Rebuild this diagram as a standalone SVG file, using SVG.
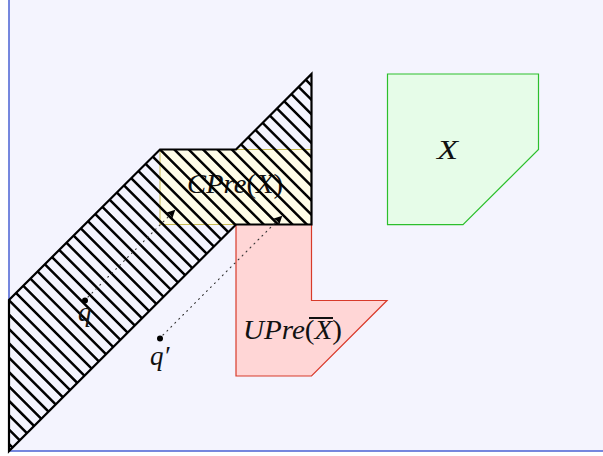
<svg xmlns="http://www.w3.org/2000/svg" width="603" height="456" viewBox="0 0 603 456">
<style>
.lbl{font-family:"Liberation Serif","DejaVu Serif",serif;font-style:italic;font-size:27px;fill:#111}
.up{font-style:normal}
.dot{stroke:#333;stroke-width:1.1;stroke-dasharray:1 4.6;stroke-linecap:round;fill:none}
.hl{stroke:#000;stroke-width:2.5;fill:none}
</style>
<defs>
<clipPath id="hclip">
<polygon points="9,451 9,300 160,149.5 236,149.5 311.5,74 311.5,224.5 236,224.5"/>
</clipPath>
<marker id="ah" viewBox="0 0 10 10" refX="8" refY="5" markerWidth="9" markerHeight="9" markerUnits="userSpaceOnUse" orient="auto">
<path d="M0,0 Q4,5 0,10 L10,5 Z" fill="#000"/>
</marker>
</defs>
<rect x="0" y="0" width="603" height="456" fill="#ffffff"/>
<rect x="9" y="-3" width="600" height="454" fill="#f4f4fe" stroke="#4a62d4" stroke-width="1.5"/>
<g id="cpre">
<rect x="160" y="149.5" width="151.5" height="75" fill="#fffde8" stroke="#c9bc55" stroke-width="1"/>
<text class="lbl" x="187" y="193" textLength="96" lengthAdjust="spacingAndGlyphs" fill="#222">CPre<tspan class="up">(</tspan>X<tspan class="up">)</tspan></text>
</g>
<g id="upre">
<polygon points="236,224.5 311.5,224.5 311.5,300.5 387,300.5 311.5,376 236,376" fill="#ffd6d6" stroke="#d83a2a" stroke-width="1.2"/>
<text class="lbl" x="243" y="339" textLength="99" lengthAdjust="spacingAndGlyphs">UPre<tspan class="up">(</tspan>X<tspan class="up">)</tspan></text>
<line x1="309" y1="318" x2="333" y2="318" stroke="#111" stroke-width="2"/>
</g>
<g id="x">
<polygon points="387.5,74 538.5,74 538.5,149.5 463,224.7 387.5,224.7" fill="#e6fce8" stroke="#2cbf2c" stroke-width="1.2"/>
<text class="lbl" x="437" y="159" textLength="21" lengthAdjust="spacingAndGlyphs">X</text>
</g>
<g id="hatched">
<path class="hl" clip-path="url(#hclip)" d="M0,-226.05 l320,320 M0,-211.68 l320,320 M0,-197.31 l320,320 M0,-182.94 l320,320 M0,-168.57 l320,320 M0,-154.2 l320,320 M0,-139.83 l320,320 M0,-125.46 l320,320 M0,-111.09 l320,320 M0,-96.72 l320,320 M0,-82.35 l320,320 M0,-67.98 l320,320 M0,-53.61 l320,320 M0,-39.24 l320,320 M0,-24.87 l320,320 M0,-10.5 l320,320 M0,3.87 l320,320 M0,18.24 l320,320 M0,32.61 l320,320 M0,46.98 l320,320 M0,61.35 l320,320 M0,75.72 l320,320 M0,90.09 l320,320 M0,104.46 l320,320 M0,118.83 l320,320 M0,133.2 l320,320 M0,147.57 l320,320 M0,161.94 l320,320 M0,176.31 l320,320 M0,190.68 l320,320 M0,205.05 l320,320 M0,219.42 l320,320 M0,233.79 l320,320 M0,248.16 l320,320 M0,262.53 l320,320 M0,276.9 l320,320 M0,291.27 l320,320 M0,305.64 l320,320 M0,320.01 l320,320 M0,334.38 l320,320 M0,348.75 l320,320 M0,363.12 l320,320 M0,377.49 l320,320 M0,391.86 l320,320 M0,406.23 l320,320 M0,420.6 l320,320 M0,434.97 l320,320"/>
<polygon points="9,451 9,300 160,149.5 236,149.5 311.5,74 311.5,224.5 236,224.5" fill="none" stroke="#000" stroke-width="2.2" stroke-linejoin="miter"/>
</g>
<g id="q">
<circle cx="85" cy="300.5" r="3" fill="#000"/>
<text class="lbl" x="78" y="321">q</text>
</g>
<g id="qprime">
<circle cx="160" cy="338.5" r="3" fill="#000"/>
<text class="lbl" x="150" y="365">q′</text>
</g>
<g id="connectors">
<path class="dot" d="M88,297 L174,211" marker-end="url(#ah)"/>
<path class="dot" d="M163,335 L281,217" marker-end="url(#ah)"/>
</g>
</svg>
